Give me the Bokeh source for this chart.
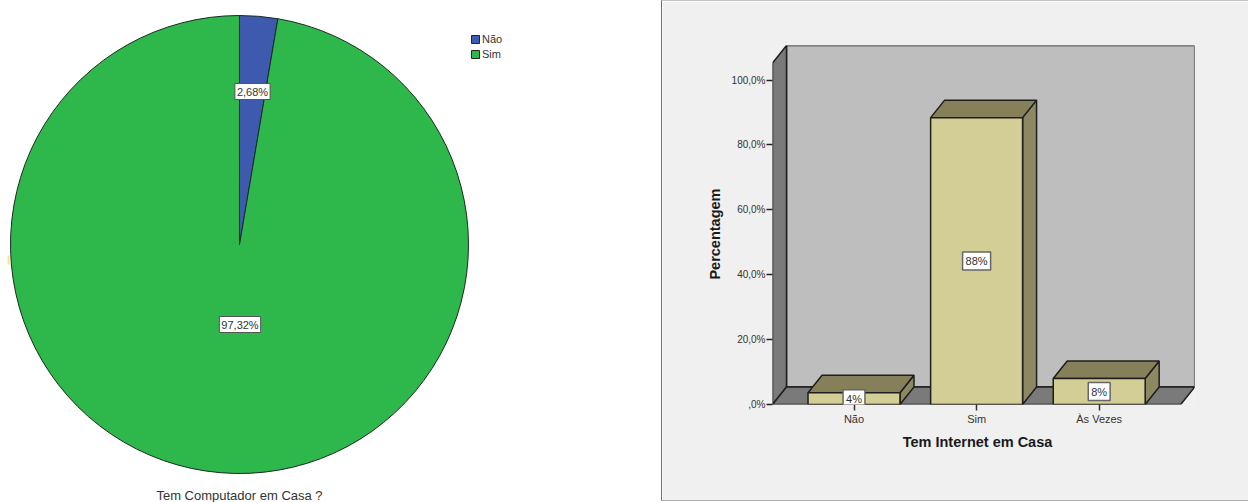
import math
from bokeh.embed import file_html
from bokeh.resources import INLINE
from bokeh.plotting import figure
from bokeh.models import Label, Legend, LegendItem, Range1d, FixedTicker, LinearAxis

pie_categories = ["Não", "Sim"]
pie_values = [2.68, 97.32]
pie_labels = ["2,68%", "97,32%"]
pie_title = "Tem Computador em Casa ?"

bar_categories = ["Não", "Sim", "Às Vezes"]
bar_values = [3.6, 88.4, 8.0]
bar_labels = ["4%", "88%", "8%"]
y_ticks = [0, 20, 40, 60, 80, 100]
y_tick_labels = [",0%", "20,0%", "40,0%", "60,0%", "80,0%", "100,0%"]
x_title = "Tem Internet em Casa"
y_title = "Percentagem"

PIE_COLORS = ["#3E5AAE", "#2EB84C"]
FACE, TOP, SIDE = "#D2CE96", "#85805A", "#8C8862"
WALL, DARK = "#BEBEBE", "#7A7A7A"
EDGE = "#1E1E1E"
PANEL = "#F0F0F0"
FONT = "Liberation Sans"

# ---------- pie ----------
R = 229
W1, H1 = 661, 502
p1 = figure(width=W1, height=H1, x_range=Range1d(-239, W1 - 239), y_range=Range1d(244 - H1, 244),
            output_backend="svg", toolbar_location=None, min_border=0,
            outline_line_color=None, background_fill_color="white", border_fill_color="white")
p1.axis.visible = False
p1.grid.visible = False
p1.styles = {"position": "absolute", "left": "0px", "top": "0px"}

items = []
start = math.pi / 2
for name, v, c in zip(pie_categories, pie_values, PIE_COLORS):
    end = start - v / 100 * 2 * math.pi
    r = p1.wedge(x=[0], y=[0], radius=R, start_angle=[end], end_angle=[start],
                 fill_color=c, line_color="#1C2A22", line_width=1)
    items.append(LegendItem(label=name, renderers=[r]))
    start = end

# small stray mark at the pie's left edge
p1.quad(left=[-232], right=[-230], bottom=[-20], top=[-11], fill_color="#FFE08A", line_color=None, level="underlay")

legend = Legend(items=items, location=(470, 502 - 60), orientation="vertical",
                glyph_width=10, glyph_height=10, spacing=3, padding=0, margin=0,
                label_text_font=FONT, label_text_font_size="11px", label_text_color="#333333",
                label_standoff=2, label_height=10, background_fill_alpha=0, border_line_color=None)
p1.add_layout(legend)

for x, y, t in zip([13, 0.5], [153, -80], pie_labels):
    p1.add_layout(Label(x=x, y=y, text=t, text_align="center", text_baseline="middle",
                        text_font=FONT, text_font_size="11px", text_color="#333333",
                        background_fill_color="white", border_line_color="#555555",
                        border_line_width=1, padding=2))
p1.add_layout(Label(x=0, y=-251, text=pie_title, text_align="center", text_baseline="middle",
                    text_font=FONT, text_font_size="13px", text_color="#333333"))

# ---------- 3-D bars ----------
W2, H2 = 587, 501
BL, BR, BT, BB = 110, 55, 44, 98
PX_X, PX_Y = 122.6, 3.245      # pixels per category step and per percent
DX, DY = 14 / PX_X, 17.5 / PX_Y  # depth of the box in data units
BAR_W = 0.75
x0 = -81.5 / PX_X
x1 = 2 + 81.5 / PX_X
y_top = (H2 - BT - BB) / PX_Y
wall_top = y_top - DY

p2 = figure(width=W2, height=H2, x_range=Range1d(x0, x0 + (W2 - BL - BR) / PX_X), y_range=Range1d(0, y_top),
            output_backend="svg", toolbar_location=None,
            min_border_left=BL, min_border_right=BR, min_border_top=BT, min_border_bottom=BB,
            background_fill_color=PANEL, border_fill_color=PANEL,
            outline_line_color=None, x_axis_type=None, y_axis_type=None)
p2.grid.visible = False
p2.styles = {"position": "absolute", "left": "661px", "top": "0px",
             "border-left": "1px solid #707070", "border-top": "1px solid #C4C4C4",
             "border-bottom": "1px solid #B0B0B0"}

lw = 1.5
p2.quad(left=[x0 + DX], right=[x1 + DX], bottom=[DY], top=[y_top], fill_color=WALL, line_color=EDGE, line_width=lw)
p2.patch([x0, x0 + DX, x0 + DX, x0], [0, DY, y_top, wall_top], fill_color=DARK, line_color=EDGE, line_width=lw)
p2.patch([x0, x0 + DX, x1 + DX, x1], [0, DY, DY, 0], fill_color=DARK, line_color=EDGE, line_width=lw)

for i, v in enumerate(bar_values):
    l, r = i - BAR_W / 2, i + BAR_W / 2
    p2.patch([r, r + DX, r + DX, r], [0, DY, v + DY, v], fill_color=SIDE, line_color=EDGE, line_width=lw)
    p2.patch([l, l + DX, r + DX, r], [v, v + DY, v + DY, v], fill_color=TOP, line_color=EDGE, line_width=lw)
p2.vbar(x=list(range(len(bar_values))), top=bar_values, bottom=0, width=BAR_W,
        fill_color=FACE, line_color=EDGE, line_width=lw)

yax = LinearAxis(ticker=FixedTicker(ticks=y_ticks),
                 major_label_overrides={t: s for t, s in zip(y_ticks, y_tick_labels)},
                 axis_line_color=None, major_tick_line_color="#222222", major_tick_line_width=1.5,
                 major_tick_out=6, major_tick_in=0, minor_tick_line_color=None,
                 major_label_text_font=FONT, major_label_text_font_size="10px",
                 major_label_text_color="#333333", major_label_standoff=1)
p2.add_layout(yax, "left")
xax = LinearAxis(ticker=FixedTicker(ticks=list(range(len(bar_categories)))),
                 major_label_overrides={i: s for i, s in enumerate(bar_categories)},
                 axis_line_color=None, major_tick_line_color="#333333", major_tick_line_width=1.5,
                 major_tick_out=6, major_tick_in=0, minor_tick_line_color=None,
                 major_label_text_font=FONT, major_label_text_font_size="11px",
                 major_label_text_color="#333333", major_label_standoff=2)
p2.add_layout(xax, "below")

for i, (v, t) in enumerate(zip(bar_values, bar_labels)):
    p2.add_layout(Label(x=i, y=v / 2, text=t, text_align="center", text_baseline="middle",
                        text_font=FONT, text_font_size="11px", text_color="#333333",
                        background_fill_color="white", border_line_color="#666666",
                        border_line_width=1.5, padding=3))

# transparent overlay for the two axis titles, which sit outside the plot frame of p2
p3 = figure(width=W2, height=H2 - 2, x_range=Range1d(662, 662 + W2), y_range=Range1d(H2, 1),
            output_backend="svg", toolbar_location=None, min_border=0,
            outline_line_color=None, background_fill_color=None, border_fill_color=None)
p3.axis.visible = False
p3.grid.visible = False
p3.styles = {"position": "absolute", "left": "662px", "top": "1px", "pointer-events": "none"}
p3.add_layout(Label(x=977, y=442, text=x_title, text_align="center", text_baseline="middle",
                    text_font=FONT, text_font_size="14.5px", text_font_style="bold", text_color="#1A1A1A"))
p3.add_layout(Label(x=714, y=234, angle=90, angle_units="deg", text=y_title,
                    text_align="center", text_baseline="middle",
                    text_font=FONT, text_font_size="14.5px", text_font_style="bold", text_color="#1A1A1A"))

open("out.html", "w").write(file_html([p1, p2, p3], INLINE))
